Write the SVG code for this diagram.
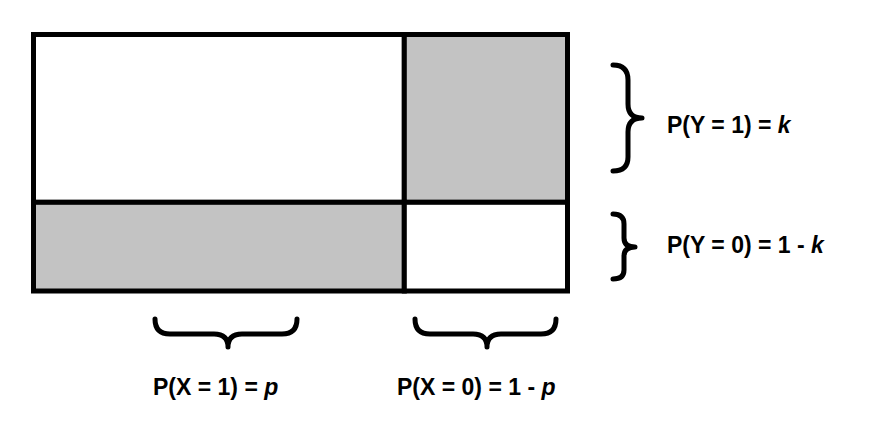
<svg xmlns="http://www.w3.org/2000/svg" width="869" height="448" viewBox="0 0 869 448">
<style>
.cell{stroke:#000;stroke-width:5}
.g{fill:#C3C3C3}
.w{fill:#FFFFFF}
.brace{fill:none;stroke:#000;stroke-width:5;stroke-linecap:round;stroke-linejoin:round}
.lbl{font-family:"Liberation Sans",Arial,sans-serif;font-weight:bold;font-size:23px;fill:#000}
</style>
<rect width="869" height="448" fill="#fff"/>
<g id="cell-x1-y1"><rect class="cell w" x="33.5" y="34.5" width="370.8" height="167.8"/></g>
<g id="cell-x0-y1"><rect class="cell g" x="404.3" y="34.5" width="163.2" height="167.8"/></g>
<g id="cell-x1-y0"><rect class="cell g" x="33.5" y="202.3" width="370.8" height="88.7"/></g>
<g id="cell-x0-y0"><rect class="cell w" x="404.3" y="202.3" width="163.2" height="88.7"/></g>
<g id="connectors">
<path class="brace" d="M613,65 Q628,65 628,80 L628,104 Q628,118 642,118 Q628,118 628,132 L628,157 Q628,171 613,171"/>
<path class="brace" d="M613,214 Q624,214 624,224 L624,238 Q624,247 635,247 Q624,247 624,256 L624,270 Q624,279 613,279"/>
<path class="brace" d="M155,319 Q155,334 170,334 L214,334 Q228,334 228,347 Q228,334 242,334 L282,334 Q297,334 297,319"/>
<path class="brace" d="M415,319 Q415,334 430,334 L473,334 Q487,334 487,347 Q487,334 501,334 L541,334 Q556,334 556,319"/>
</g>
<g id="label-y1"><text class="lbl" x="667" y="133">P(Y = 1) = <tspan font-style="italic">k</tspan></text></g>
<g id="label-y0"><text class="lbl" x="667" y="253">P(Y = 0) = 1 - <tspan font-style="italic">k</tspan></text></g>
<g id="label-x1"><text class="lbl" x="153" y="395">P(X = 1) = <tspan font-style="italic">p</tspan></text></g>
<g id="label-x0"><text class="lbl" x="397" y="395">P(X = 0) = 1 - <tspan font-style="italic">p</tspan></text></g>
</svg>
